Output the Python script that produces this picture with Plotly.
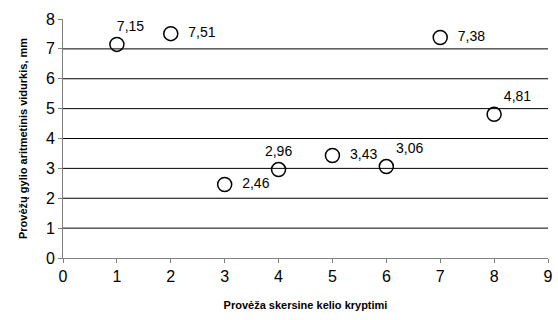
import plotly.graph_objects as go

x_vals = [1, 2, 3, 4, 5, 6, 7, 8]
y_vals = [7.15, 7.51, 2.46, 2.96, 3.43, 3.06, 7.38, 4.81]
grid_vals = [1, 2, 3, 4, 5, 6, 7]
labels = [f"{v:.2f}".replace(".", ",") for v in y_vals]
label_pos = ["top center", "middle right", "middle right", "top center",
             "middle right", "top right", "middle right", "top right"]
label_text = [("       " + labels[i]) if i == 0 else
              (labels[i] if "top" in label_pos[i] else "  " + labels[i])
              for i in range(len(labels))]

fig = go.Figure()
for g in grid_vals:
    fig.add_hline(y=g, line=dict(color="black", width=1), layer="below")
fig.add_trace(go.Scatter(
    x=x_vals, y=y_vals, mode="markers+text",
    text=label_text,
    textposition=label_pos,
    textfont=dict(family="Liberation Sans, Arial", size=14, color="black"),
    marker=dict(symbol="circle-open", size=14, color="black", line=dict(width=1.5, color="black")),
    cliponaxis=False,
    showlegend=False,
))

fig.update_layout(
    width=558, height=320,
    margin=dict(l=63, r=10, t=19, b=62),
    paper_bgcolor="white", plot_bgcolor="white",
    font=dict(family="Liberation Sans, Arial", color="black"),
)
fig.update_xaxes(
    range=[0, 9], dtick=1, tick0=0, showgrid=False, zeroline=False,
    showline=True, linecolor="#808080", linewidth=1,
    ticks="outside", ticklen=4, tickcolor="#808080",
    tickfont=dict(size=16), automargin=False,
    title=dict(text="<b>Provėža skersine kelio kryptimi</b>", font=dict(size=11), standoff=17),
)
fig.update_yaxes(
    range=[0, 8], dtick=1, tick0=0, showgrid=False,
    zeroline=False, showline=True, linecolor="#808080", linewidth=1,
    ticks="outside", ticklen=4, tickcolor="#808080",
    tickfont=dict(size=16), automargin=False,
    title=dict(text="<b>Provėžų gylio aritmetinis vidurkis, mm</b>", font=dict(size=11), standoff=16),
)
fig.write_html("out.html", config={"displayModeBar": False},
               post_script="document.body.style.margin='0';")
